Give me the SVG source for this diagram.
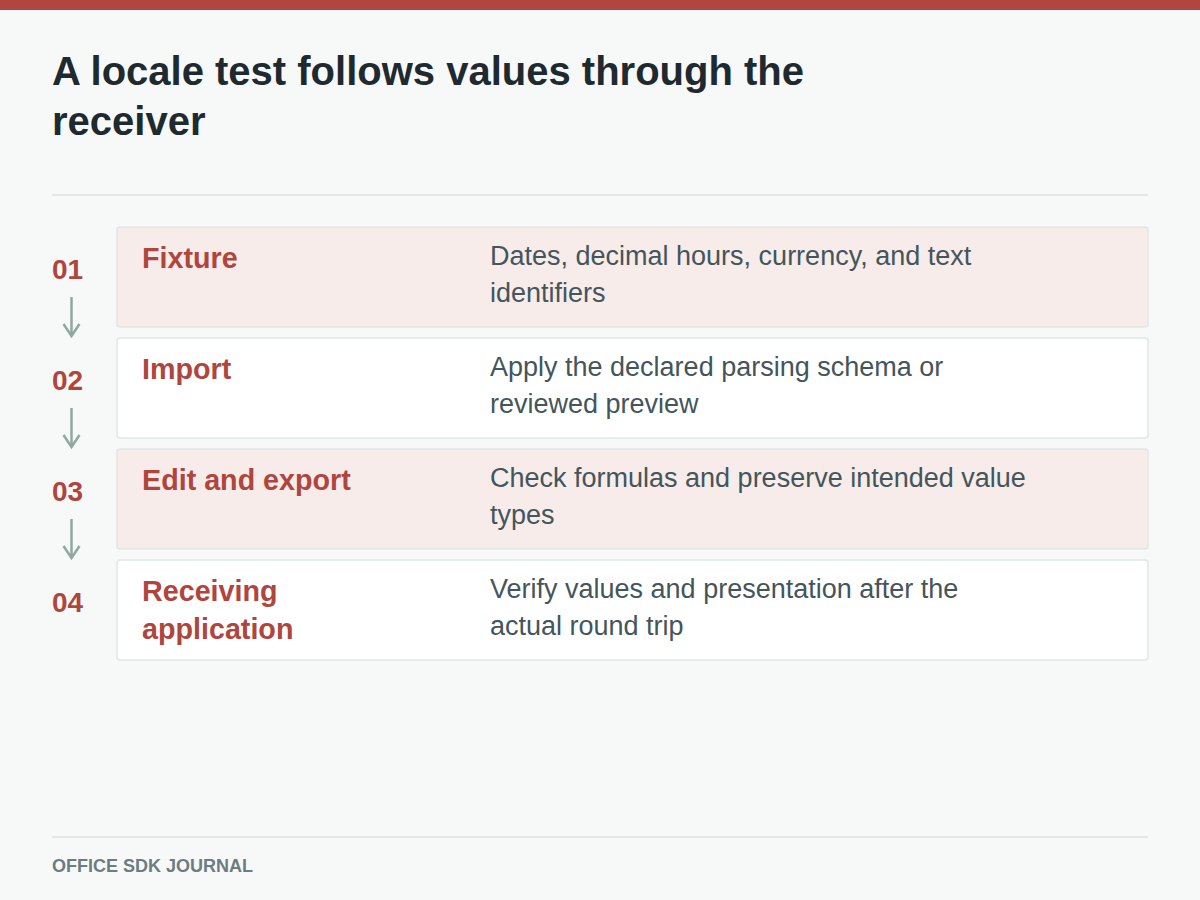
<svg xmlns="http://www.w3.org/2000/svg" width="1200" height="900" viewBox="0 0 1200 900">
<style>
.bg{fill:#f7f9f9}
.bar{fill:#b0463f}
.rule{stroke:#e2e8e6;stroke-width:2}
.title{font-family:"Liberation Sans",Arial,sans-serif;font-weight:700;font-size:40px;fill:#1f2a30}
.card{stroke:#e0e7e4;stroke-width:1.5}
.alt{fill:#f7ecea}
.plain{fill:#ffffff}
.num{font-family:"Liberation Sans",Arial,sans-serif;font-weight:700;font-size:28px;fill:#b0453e}
.head{font-family:"Liberation Sans",Arial,sans-serif;font-weight:700;font-size:28.7px;fill:#b0453e}
.desc{font-family:"Liberation Sans",Arial,sans-serif;font-size:27px;fill:#44555b}
.foot{font-family:"Liberation Sans",Arial,sans-serif;font-weight:700;font-size:18px;fill:#6c7c80}
.conn{stroke:#8fa99f;stroke-width:2.5;fill:none}
</style>
<rect class="bg" x="0" y="0" width="1200" height="900"/>
<rect class="bar" x="0" y="0" width="1200" height="10"/>
<text class="title" x="52" y="85">A locale test follows values through the</text>
<text class="title" x="52" y="135">receiver</text>
<line class="rule" x1="52" y1="195" x2="1148" y2="195"/>

<g id="step1">
<rect class="card alt" x="117" y="227" width="1031" height="100" rx="3"/>
<text class="num" x="52" y="279">01</text>
<text class="head" x="142" y="268">Fixture</text>
<text class="desc" x="490" y="265">Dates, decimal hours, currency, and text</text>
<text class="desc" x="490" y="302">identifiers</text>
</g>
<g id="step2">
<rect class="card plain" x="117" y="338" width="1031" height="100" rx="3"/>
<text class="num" x="52" y="390">02</text>
<text class="head" x="142" y="379">Import</text>
<text class="desc" x="490" y="376">Apply the declared parsing schema or</text>
<text class="desc" x="490" y="413">reviewed preview</text>
</g>
<g id="step3">
<rect class="card alt" x="117" y="449" width="1031" height="100" rx="3"/>
<text class="num" x="52" y="501">03</text>
<text class="head" x="142" y="490">Edit and export</text>
<text class="desc" x="490" y="487">Check formulas and preserve intended value</text>
<text class="desc" x="490" y="524">types</text>
</g>
<g id="step4">
<rect class="card plain" x="117" y="560" width="1031" height="100" rx="3"/>
<text class="num" x="52" y="612">04</text>
<text class="head" x="142" y="601">Receiving</text>
<text class="head" x="142" y="639">application</text>
<text class="desc" x="490" y="598">Verify values and presentation after the</text>
<text class="desc" x="490" y="635">actual round trip</text>
</g>

<g id="connectors">
<path class="conn" d="M71.5 297 V336 M63.5 324 L71.5 336 L79.5 324"/>
<path class="conn" d="M71.5 408 V447 M63.5 435 L71.5 447 L79.5 435"/>
<path class="conn" d="M71.5 519 V558 M63.5 546 L71.5 558 L79.5 546"/>
</g>

<line class="rule" x1="52" y1="837" x2="1148" y2="837"/>
<text class="foot" x="52" y="872">OFFICE SDK JOURNAL</text>
</svg>
